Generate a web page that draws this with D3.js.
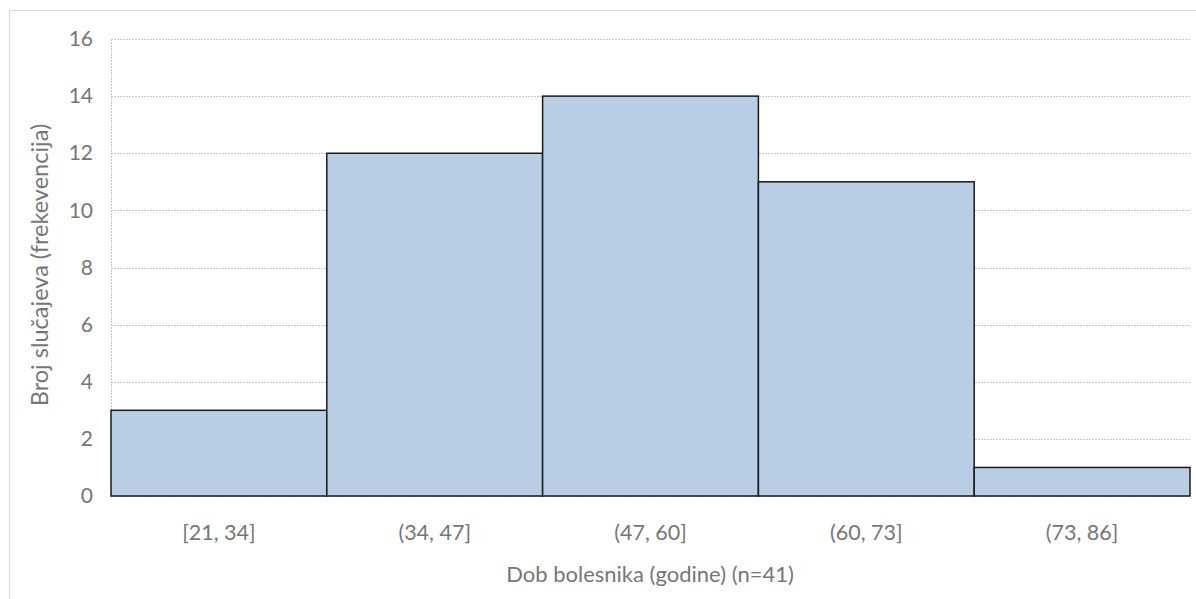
<!DOCTYPE html>
<html><head><meta charset="utf-8">
<script src="https://cdn.jsdelivr.net/npm/d3@7"></script>
<style>body{margin:0;background:#fff}svg{display:block}</style>
</head><body><svg id="c" width="1196" height="599"></svg>
<script>
const categories = ["[21, 34]", "(34, 47]", "(47, 60]", "(60, 73]", "(73, 86]"];
const counts = [3, 12, 14, 11, 1];
const yTicks = [0, 2, 4, 6, 8, 10, 12, 14, 16];
const xTitle = "Dob bolesnika (godine) (n=41)";
const yTitle = "Broj slučajeva (frekevencija)";

const svg = d3.select("#c");
const font = "Lato, 'Open Sans', sans-serif";
const L = 111, R = 1190, T = 39, B = 496;

// outer chart border
svg.append("rect").attr("x", 9.5).attr("y", 10.5).attr("width", 1200).attr("height", 600)
  .attr("fill", "none").attr("stroke", "#d9d9d9").attr("stroke-width", 1);

const x = d3.scaleBand().domain(categories).range([L, R]).padding(0);
const y = d3.scaleLinear().domain([0, 16]).range([B, T]);

// gridlines
svg.append("g").selectAll("line").data(yTicks.filter(d => d > 0)).join("line")
  .attr("x1", L).attr("x2", R).attr("y1", d => Math.round(y(d)) + 0.5).attr("y2", d => Math.round(y(d)) + 0.5)
  .attr("stroke", "#c8c8c8").attr("stroke-width", 1).attr("stroke-dasharray", "2,1");
svg.append("line").attr("x1", L + 0.5).attr("x2", L + 0.5).attr("y1", T).attr("y2", B)
  .attr("stroke", "#c8c8c8").attr("stroke-dasharray", "2,1");
svg.append("line").attr("x1", L).attr("x2", R).attr("y1", B + 0.5).attr("y2", B + 0.5)
  .attr("stroke", "#d9d9d9").attr("stroke-dasharray", "2,1");

// bars
svg.append("g").selectAll("rect").data(counts).join("rect")
  .attr("x", (d, i) => x(categories[i]))
  .attr("y", d => y(d))
  .attr("width", x.bandwidth())
  .attr("height", d => B - y(d))
  .attr("fill", "#b9cde5").attr("stroke", "#1a1a1a").attr("stroke-width", 1.5);

// y axis
const yAxis = d3.axisLeft(y).tickValues(yTicks).tickSize(0).tickPadding(18);
const gy = svg.append("g").attr("transform", `translate(${L},0)`).call(yAxis);
gy.select(".domain").remove();
gy.selectAll("text").attr("font-family", font).attr("font-size", 21).attr("fill", "#767676");

// x axis
const xAxis = d3.axisBottom(x).tickSize(0).tickPadding(29);
const gx = svg.append("g").attr("transform", `translate(0,${B})`).call(xAxis);
gx.select(".domain").remove();
gx.selectAll("text").attr("font-family", font).attr("font-size", 21.5).attr("fill", "#767676");

// titles
svg.append("text").attr("x", 650).attr("y", 582).attr("text-anchor", "middle")
  .attr("font-family", font).attr("font-size", 22).attr("fill", "#767676").text(xTitle);
svg.append("text").attr("transform", "translate(48,265) rotate(-90)").attr("text-anchor", "middle")
  .attr("font-family", font).attr("font-size", 23.5).attr("fill", "#767676").text(yTitle);
</script></body></html>
